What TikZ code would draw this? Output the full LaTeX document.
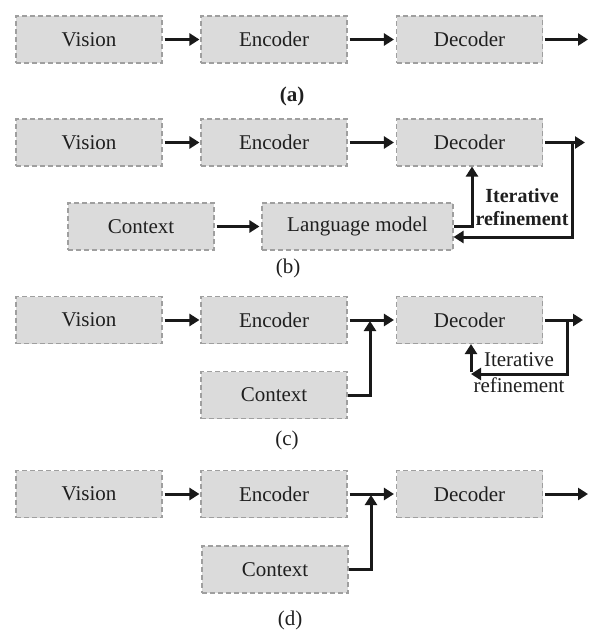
\documentclass[tikz,border=0pt]{standalone}
\usepackage{fontspec}
\setmainfont{Liberation Serif}
\usetikzlibrary{arrows.meta,positioning}

\tikzset{
  blk/.style={draw=gray!75, dash pattern=on 5pt off 3pt, line width=1.1pt,
    fill=black!14, minimum width=146pt, minimum height=47pt, inner sep=0pt,
    text=black!88, font=\fontsize{21}{24}\selectfont},
  flow/.style={line width=3pt, draw=black!90, -{Triangle[length=10pt,width=12pt]}},
  tag/.style={inner sep=0pt, text=black!88, font=\fontsize{21}{24}\selectfont},
}

\begin{document}
\begin{tikzpicture}[x=1pt,y=-1pt]
	\path[fill=white, use as bounding box] (0,0) rectangle (597,642);

	% (a) plain pipeline
	\node[blk] (visA) at (89,39.5) {Vision};
	\node[blk] (encA) at (274,39.5) {Encoder};
	\node[blk] (decA) at (469.5,39.5) {Decoder};
	\coordinate (outA) at (588,39.5);
	\draw[flow, shorten <=2pt, shorten >=1pt] (visA) -- (encA);
	\draw[flow, shorten <=2pt, shorten >=2pt] (encA) -- (decA);
	\draw[flow, shorten <=2pt] (decA) -- (outA);
	\node[tag, font=\fontsize{21}{24}\selectfont\bfseries] (capA) at (292,96) {(a)};

	% (b) language model in the loop
	\node[blk] (visB) at (89,142.5) {Vision};
	\node[blk] (encB) at (274,142.5) {Encoder};
	\node[blk] (decB) at (469.5,142.5) {Decoder};
	\coordinate (outB) at (585,142.5);
	\node[blk] (ctxB) at (141,226.5) {Context};
	\node[blk, minimum width=191pt] (lmB) at (357.5,226.5) {Language model};
	\draw[flow, shorten <=2pt, shorten >=1pt] (visB) -- (encB);
	\draw[flow, shorten <=2pt, shorten >=2pt] (encB) -- (decB);
	\draw[flow, shorten <=2pt] (decB) -- (outB);
	\draw[flow, shorten <=2pt, shorten >=2pt] (ctxB) -- (lmB);
	\coordinate (turnB) at (572,237);
	\coordinate (riseB) at (472,226.5);
	\draw[flow] (decB.east -| turnB) -- (turnB) -- (turnB -| lmB.east);
	\draw[flow] (lmB.east) -- (riseB) -- (riseB |- decB.south);
	\node[tag, align=center, font=\fontsize{20}{23}\selectfont\bfseries] (itB) at (522,207) {Iterative\\refinement};
	\node[tag] (capB) at (288,268) {(b)};

	% (c) context joins before the decoder, loop kept
	\node[blk] (visC) at (89,320) {Vision};
	\node[blk] (encC) at (274,320) {Encoder};
	\node[blk] (decC) at (469.5,320) {Decoder};
	\coordinate (outC) at (583,320);
	\node[blk] (ctxC) at (274,395) {Context};
	\draw[flow, shorten <=2pt, shorten >=1pt] (visC) -- (encC);
	\draw[flow, shorten <=2pt, shorten >=2pt] (encC) -- (decC);
	\draw[flow, shorten <=2pt] (decC) -- (outC);
	\coordinate (joinC) at (370,321);
	\draw[flow] (ctxC.east) -| (joinC);
	\coordinate (turnC) at (567,374);
	\coordinate (backC) at (471,374);
	\draw[flow] (decC.east -| turnC) -- (turnC) -- (backC);
	\draw[flow] ([yshift=2pt]backC) -- (backC |- decC.south);
	\node[tag, align=center, font=\fontsize{21}{26}\selectfont] (itC) at (519,373) {Iterative\\refinement};
	\node[tag] (capC) at (287,440) {(c)};

	% (d) context joins before the decoder, no loop
	\node[blk] (visD) at (89,494) {Vision};
	\node[blk] (encD) at (274,494) {Encoder};
	\node[blk] (decD) at (469.5,494) {Decoder};
	\coordinate (outD) at (588,494);
	\node[blk] (ctxD) at (275,569.5) {Context};
	\draw[flow, shorten <=2pt, shorten >=1pt] (visD) -- (encD);
	\draw[flow, shorten <=2pt, shorten >=2pt] (encD) -- (decD);
	\draw[flow, shorten <=2pt] (decD) -- (outD);
	\coordinate (joinD) at (371,495);
	\draw[flow] (ctxD.east) -| (joinD);
	\node[tag] (capD) at (290,620) {(d)};
\end{tikzpicture}
\end{document}
